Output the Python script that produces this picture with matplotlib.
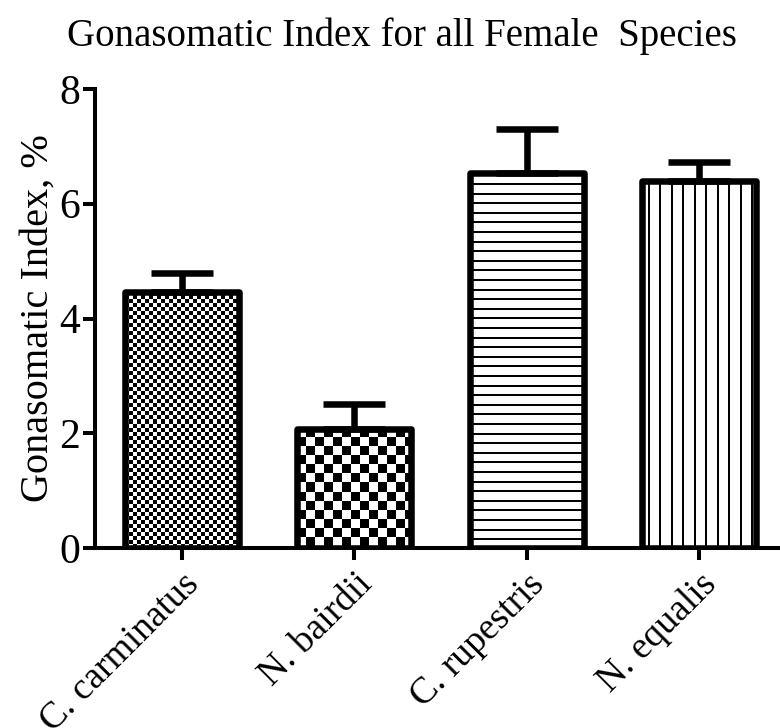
import numpy as np
import matplotlib
matplotlib.use("Agg")
import matplotlib.pyplot as plt

species = ['C. carminatus', 'N. bairdii', 'C. rupestris', 'N. equalis']
gsi_mean = [4.47, 2.08, 6.53, 6.39]
gsi_sem = [0.33, 0.43, 0.78, 0.34]
fills = ['fine_check', 'check', 'hstripe', 'vstripe']

plt.rcParams['font.family'] = ['Liberation Serif', 'DejaVu Serif']


def texture(kind, w, h):
    # pixel fill for a bar of w x h pixels (1 = black)
    yy, xx = np.mgrid[0:h, 0:w]
    if kind == 'fine_check':
        return ((xx // 4 + yy // 4) % 2).astype(float)
    if kind == 'check':
        return ((xx // 9 + yy // 9) % 2).astype(float)
    if kind == 'hstripe':
        return ((yy % 9.6) < 2).astype(float)
    if kind == 'vstripe':
        return (((xx + 6) % 11.5) < 2).astype(float)
    return np.zeros((h, w))


fig = plt.figure(figsize=(7.8, 7.28), dpi=100)
ax = fig.add_axes([95 / 780, 180 / 728, 685 / 780, 459 / 728])

x = np.arange(len(species))
width = 0.66
ax.set_xlim(-0.505, 3.47)
ax.set_ylim(0, 8)

bars = ax.bar(x, gsi_mean, width=width, facecolor='none', edgecolor='black',
              linewidth=4.7, zorder=3)
for b, kind in zip(bars, fills):
    b.set_joinstyle('round')
    x0, x1 = b.get_x(), b.get_x() + b.get_width()
    y1 = b.get_height()
    p0 = ax.transData.transform((x0, 0))
    p1 = ax.transData.transform((x1, y1))
    w_px = int(round(p1[0] - p0[0]))
    h_px = int(round(p1[1] - p0[1]))
    img = texture(kind, w_px, h_px)
    ax.imshow(img, extent=(x0, x1, 0, y1), cmap='gray_r', vmin=0, vmax=1,
              interpolation='nearest', aspect='auto', zorder=2,
              clip_path=b, clip_on=True)

ax.errorbar(x, gsi_mean, yerr=[np.zeros(len(x)), gsi_sem], fmt='none',
            ecolor='black', elinewidth=4.7, capsize=22, capthick=4.7, zorder=2.5)

for s in ['top', 'right']:
    ax.spines[s].set_visible(False)
for s in ['left', 'bottom']:
    ax.spines[s].set_linewidth(2.9)

ax.set_yticks([0, 2, 4, 6, 8])
ax.tick_params(axis='both', width=2.9, length=8.6, labelsize=30, pad=2)
ax.tick_params(axis='x', pad=5)
ax.set_xticks(x)
ax.set_xticklabels(species, rotation=45, ha='right', rotation_mode='anchor',
                   fontsize=27)
ax.set_ylabel('Gonasomatic Index, %', fontsize=29, labelpad=2)

fig.text(402 / 780, 1 - 36 / 728, 'Gonasomatic Index for all Female  Species',
         ha='center', va='center', fontsize=28)

fig.savefig('out.png', dpi=100)
